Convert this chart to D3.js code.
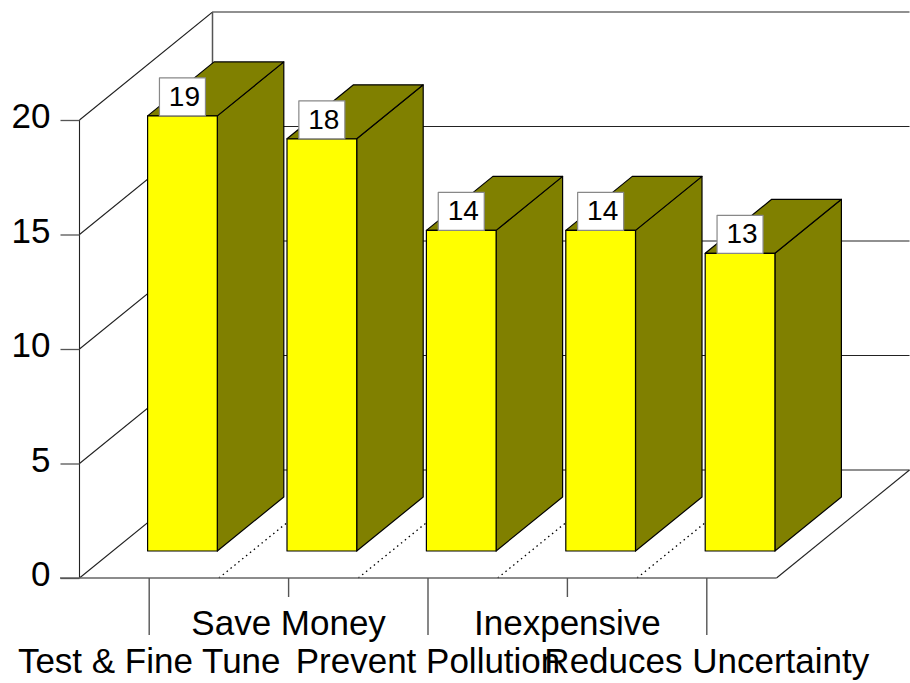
<!DOCTYPE html>
<html>
<head>
<meta charset="utf-8">
<script src="https://cdn.jsdelivr.net/npm/d3@7"></script>
<style>
html, body { margin: 0; padding: 0; background: #fff; }
svg { display: block; }
text { font-family: "Liberation Sans", Arial, sans-serif; fill: #000; }
</style>
</head>
<body>
<div id="chart"></div>
<script>
var categories = ["Test & Fine Tune", "Save Money", "Prevent Pollution", "Inexpensive", "Reduces Uncertainty"];
var values = [19, 18, 14, 14, 13];
var yTicks = [0, 5, 10, 15, 20];

const width = 910, height = 683;
const plot = { left: 79.5, right: 776.5, top: 120, bottom: 578 };
const depth = { x: 133, y: 108 }; // wall offset of the fake 3d box

var svg = d3.select("#chart").append("svg")
    .attr("width", width)
    .attr("height", height);

var x = d3.scaleBand().domain(categories).range([plot.left, plot.right]).paddingInner(0.5).paddingOuter(0.25);
var band = d3.scaleBand().domain(categories).range([plot.left, plot.right]);
var y = d3.scaleLinear().domain([0, 20]).range([plot.bottom, plot.top]);

var walls = svg.append("g").attr("fill", "none").attr("stroke", "#222").attr("stroke-width", 1.1);

// left and back wall gridlines
yTicks.forEach(function(v) {
    walls.append("polyline")
        .attr("points", [
            [plot.left, y(v)],
            [plot.left + depth.x, y(v) - depth.y],
            [plot.right + depth.x, y(v) - depth.y]
        ].join(" "));
});
walls.append("line")
    .attr("x1", plot.left).attr("x2", plot.left)
    .attr("y1", y(0)).attr("y2", y(20));
walls.append("line")
    .attr("x1", plot.left + depth.x).attr("x2", plot.left + depth.x)
    .attr("y1", y(0) - depth.y).attr("y2", y(20) - depth.y)
    .attr("stroke", "#555").attr("stroke-width", 1.5);
walls.append("line")
    .attr("x1", plot.right).attr("x2", plot.right + depth.x)
    .attr("y1", y(0)).attr("y2", y(0) - depth.y);

// dotted floor lines between categories
svg.append("g").selectAll("line")
    .data(categories.slice(1))
    .enter()
    .append("line")
    .attr("x1", d => band(d))
    .attr("x2", d => band(d) + depth.x)
    .attr("y1", y(0))
    .attr("y2", y(0) - depth.y)
    .attr("stroke", "#000")
    .attr("stroke-width", 1.3)
    .attr("stroke-dasharray", "1.5,3.5");

// floor front edge
svg.append("line")
    .attr("x1", 60).attr("x2", plot.right)
    .attr("y1", y(0)).attr("y2", y(0))
    .attr("stroke", "#666").attr("stroke-width", 1.6);

// y axis
var yAxis = d3.axisLeft(y).tickValues(yTicks).tickSize(19).tickPadding(10).tickFormat(d3.format("d"));
var yG = svg.append("g")
    .attr("transform", `translate(${plot.left}, 0)`)
    .call(yAxis);
yG.select(".domain").remove();
yG.selectAll("line").attr("stroke", "#555").attr("stroke-width", 1.3);
yG.selectAll("text")
    .attr("font-size", 35)
    .attr("dy", "0.22em")
    .style("font-family", "'Liberation Sans'");

// bars
const barDx = depth.x / 4, barDy = depth.y / 4;
const backDx = depth.x / 2, backDy = depth.y / 2;
var data = categories.map((c, i) => ({ name: c, value: values[i] }));

var bars = svg.append("g").selectAll("g")
    .data(data)
    .enter()
    .append("g")
    .attr("transform", d => `translate(${x(d.name) + barDx}, ${-barDy})`)
    .attr("stroke", "#000")
    .attr("stroke-width", 1.2)
    .attr("stroke-linejoin", "round");

var bw = x.bandwidth();

// side
bars.append("polygon")
    .attr("fill", "#808000")
    .attr("points", d => [
        [bw, y(d.value)],
        [bw + backDx, y(d.value) - backDy],
        [bw + backDx, y(0) - backDy],
        [bw, y(0)]
    ].join(" "));
// top
bars.append("polygon")
    .attr("fill", "#808000")
    .attr("points", d => [
        [0, y(d.value)],
        [backDx, y(d.value) - backDy],
        [bw + backDx, y(d.value) - backDy],
        [bw, y(d.value)]
    ].join(" "));
// front
bars.append("rect")
    .attr("fill", "#ffff00")
    .attr("x", 0)
    .attr("width", bw)
    .attr("y", d => y(d.value))
    .attr("height", d => y(0) - y(d.value));

// value labels
const boxW = 46, boxH = 38;
var labels = bars.append("g")
    .attr("transform", d => `translate(${bw / 2}, ${y(d.value)})`);
labels.append("rect")
    .attr("x", -boxW / 2)
    .attr("y", -boxH)
    .attr("width", boxW)
    .attr("height", boxH)
    .attr("fill", "#fff")
    .attr("stroke", "#888")
    .attr("stroke-width", 1.2);
labels.append("text")
    .attr("x", 2)
    .attr("y", -10)
    .attr("text-anchor", "middle")
    .attr("stroke", "none")
    .attr("font-size", 28)
    .text(d => d.value);

// category ticks and staggered labels
var cats = svg.append("g").selectAll("g")
    .data(categories)
    .enter()
    .append("g")
    .attr("transform", d => `translate(${band(d) + band.bandwidth() / 2}, 0)`);

cats.append("line")
    .attr("y1", y(0))
    .attr("y2", (d, i) => i % 2 ? 597 : 635)
    .attr("stroke", "#555")
    .attr("stroke-width", 1.4);

cats.append("text")
    .attr("text-anchor", "middle")
    .attr("y", (d, i) => i % 2 ? 635 : 673)
    .attr("font-size", 35)
    .text(d => d);
</script>
</body>
</html>
